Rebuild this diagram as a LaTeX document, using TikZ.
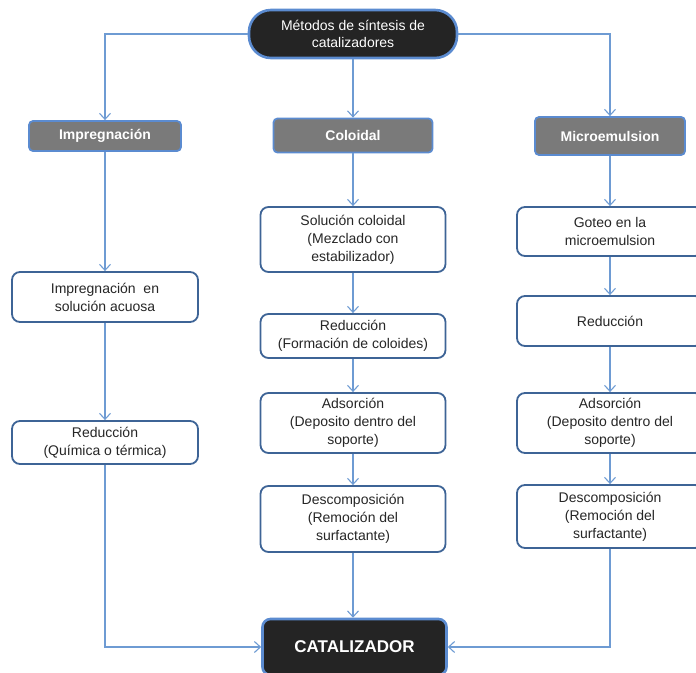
\documentclass[tikz,border=0pt]{standalone}
\usepackage{fontspec}
\setmainfont{Liberation Sans}
\usetikzlibrary{arrows.meta}
\definecolor{linkblue}{HTML}{6E9BD3}
\definecolor{edgeblue}{HTML}{3E6496}
\definecolor{glowblue}{HTML}{5B8BD0}
\definecolor{hdrgray}{HTML}{7A7A7A}
\definecolor{darkfill}{HTML}{242424}
\definecolor{txtgray}{HTML}{262626}
\tikzset{
  x=1pt, y=-1pt,
  every node/.style={align=center, inner sep=2pt},
  darkbox/.style={draw=glowblue, line width=2.6pt, fill=darkfill, text=white},
  hdrbox/.style={draw=glowblue, line width=1.8pt, fill=hdrgray, text=white,
    rounded corners=4pt, font=\fontsize{14}{17}\selectfont\bfseries},
  stepbox/.style={draw=edgeblue, line width=1.8pt, fill=white, text=txtgray,
    rounded corners=8pt, font=\fontsize{14}{18}\selectfont},
  conn/.style={draw=linkblue, line width=1.3pt,
    -{Straight Barb[length=6pt,width=11pt,line width=1.1pt]}},
}
\begin{document}
\begin{tikzpicture}
\useasboundingbox (0,0) rectangle (696,672);

% root node
\node[darkbox, rounded corners=22pt, minimum width=208pt, minimum height=48pt,
  font=\fontsize{14}{17}\selectfont] (root) at (353,34)
  {Métodos de síntesis de\\catalizadores};

% method headers
\node[hdrbox, minimum width=152pt, minimum height=30pt] (himp) at (105,136) {Impregnación};
\node[hdrbox, minimum width=159pt, minimum height=34pt] (hcol) at (353,135.5) {Coloidal};
\node[hdrbox, minimum width=150pt, minimum height=38pt] (hmic) at (610,136) {Microemulsion};

% impregnation route
\node[stepbox, minimum width=186pt, minimum height=50pt] (i1) at (105,297) {Impregnación\ \ en\\solución acuosa};
\node[stepbox, minimum width=186pt, minimum height=43pt] (i2) at (105,442.5) {Reducción\\(Química o térmica)};

% colloidal route
\node[stepbox, minimum width=185pt, minimum height=65pt] (c1) at (353,239.5) {Solución coloidal\\(Mezclado con\\estabilizador)};
\node[stepbox, minimum width=185pt, minimum height=44pt] (c2) at (353,336) {Reducción\\(Formación de coloides)};
\node[stepbox, minimum width=185pt, minimum height=60pt] (c3) at (353,423) {Adsorción\\(Deposito dentro del\\soporte)};
\node[stepbox, minimum width=185pt, minimum height=66pt] (c4) at (353,519) {Descomposición\\(Remoción del\\surfactante)};

% microemulsion route
\node[stepbox, minimum width=186pt, minimum height=49pt] (m1) at (610,231.5) {Goteo en la\\microemulsion};
\node[stepbox, minimum width=186pt, minimum height=50pt] (m2) at (610,321) {Reducción};
\node[stepbox, minimum width=186pt, minimum height=60pt] (m3) at (610,423) {Adsorción\\(Deposito dentro del\\soporte)};
\node[stepbox, minimum width=186pt, minimum height=63pt] (m4) at (610,516.5) {Descomposición\\(Remoción del\\surfactante)};

% product
\node[darkbox, rounded corners=8pt, minimum width=184pt, minimum height=56pt,
  font=\fontsize{17}{20}\selectfont\bfseries] (cat) at (354.5,647) {CATALIZADOR};

% connectors
\draw[conn] (root.west) -| (himp.north);
\draw[conn] (root.south) -- (hcol.north);
\draw[conn] (root.east) -| (hmic.north);

\draw[conn] (himp.south) -- (i1.north);
\draw[conn] (i1.south) -- (i2.north);
\draw[conn] (i2.south) |- (cat.west);

\draw[conn] (hcol.south) -- (c1.north);
\draw[conn] (c1.south) -- (c2.north);
\draw[conn] (c2.south) -- (c3.north);
\draw[conn] (c3.south) -- (c4.north);
\draw[conn] (c4.south) -- (c4.south |- cat.north);

\draw[conn] (hmic.south) -- (m1.north);
\draw[conn] (m1.south) -- (m2.north);
\draw[conn] (m2.south) -- (m3.north);
\draw[conn] (m3.south) -- (m4.north);
\draw[conn] (m4.south) |- (cat.east);
\end{tikzpicture}
\end{document}
